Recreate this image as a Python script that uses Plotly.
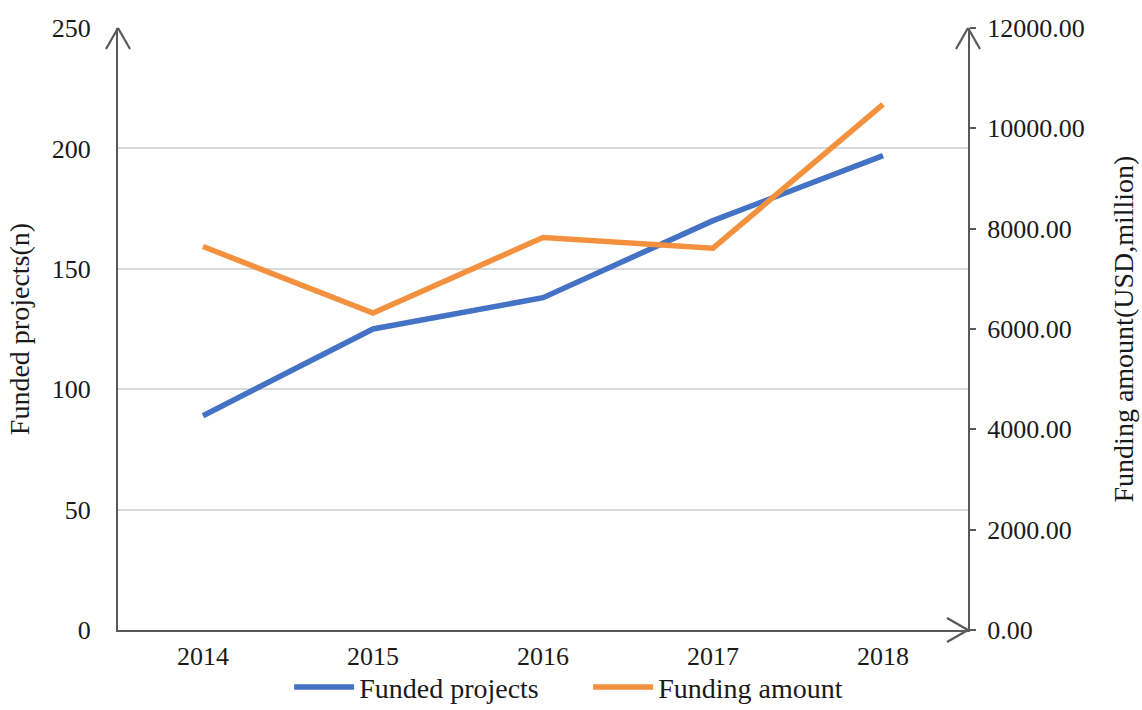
import plotly.graph_objects as go

years = ["2014", "2015", "2016", "2017", "2018"]
funded_projects = [89, 125, 138, 170, 197]
funding_amount = [7645, 6318, 7824, 7612, 10476]
left_ticks = [0, 50, 100, 150, 200, 250]
right_ticks = [0, 2000, 4000, 6000, 8000, 10000, 12000]
right_tick_text = [f"{v:.2f}" for v in right_ticks]

FONT = "Liberation Serif, Times New Roman, serif"
AXIS = "#595959"
TXT = "#1a1a1a"

fig = go.Figure()
fig.add_trace(go.Scatter(x=years, y=funded_projects, name="Funded projects",
                         mode="lines", line=dict(color="#4472C4", width=5.5)))
fig.add_trace(go.Scatter(x=years, y=funding_amount, name="Funding amount",
                         mode="lines", line=dict(color="#F4913E", width=5.5),
                         yaxis="y2"))

fig.update_layout(
    width=1142, height=710,
    margin=dict(l=118, r=174, t=28, b=80, autoexpand=False),
    paper_bgcolor="white", plot_bgcolor="white",
    font=dict(family=FONT, size=26, color=TXT),
    xaxis=dict(type="category", range=[-0.5, 4.5], showline=True, linecolor=AXIS,
               linewidth=2, ticks="", showgrid=False, zeroline=False,
               tickfont=dict(size=26, color=TXT), ticklabelstandoff=2),
    yaxis=dict(range=[0, 250], tickvals=left_ticks, showline=True, linecolor=AXIS,
               linewidth=2, ticks="", gridcolor="#d9d9d9", gridwidth=1.5,
               zeroline=False, tickfont=dict(size=26, color=TXT),
               ticklabelstandoff=20,
               title=dict(text="Funded projects(n)", standoff=14,
                          font=dict(size=28, color=TXT))),
    yaxis2=dict(range=[0, 12000], tickvals=right_ticks, ticktext=right_tick_text,
                overlaying="y", side="right", showline=True, linecolor=AXIS,
                linewidth=2, ticks="outside", ticklen=6, tickwidth=2,
                tickcolor=AXIS, showgrid=False, zeroline=False,
                tickfont=dict(size=26, color=TXT), ticklabelstandoff=6,
                title=dict(text="Funding amount(USD,million)", standoff=30,
                           font=dict(size=28, color=TXT))),
    legend=dict(orientation="h", x=0.515, xanchor="center", xref="container",
                y=0.032, yanchor="middle", yref="container",
                font=dict(size=28, color=TXT), bgcolor="rgba(0,0,0,0)",
                itemwidth=60, entrywidth=224, tracegroupgap=0),
    showlegend=True,
)

# Open arrowheads at the axis ends
def chevron(xa, ya, pts):
    for (dx, dy) in pts:
        fig.add_shape(type="line", xref="paper", yref="paper",
                      xsizemode="pixel", ysizemode="pixel",
                      xanchor=xa, yanchor=ya, x0=0, y0=0, x1=dx, y1=dy,
                      line=dict(color=AXIS, width=2.2), layer="above")

chevron(0, 1, [(-12, -21), (12, -21)])
chevron(1, 1, [(-12, -21), (12, -21)])
chevron(1, 0, [(-21, 12), (-21, -12)])

fig.write_html("out.html")
